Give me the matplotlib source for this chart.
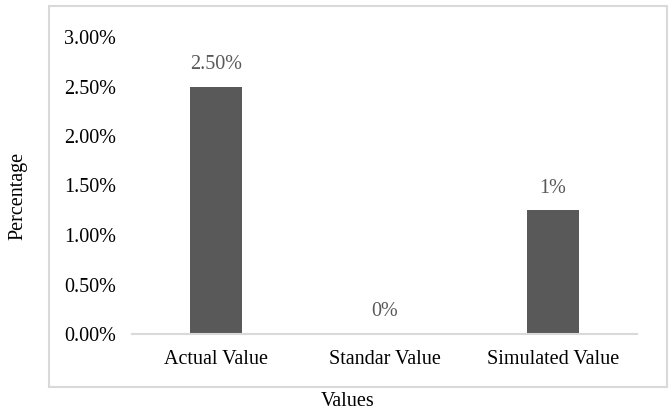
import matplotlib
matplotlib.use("Agg")
import matplotlib.pyplot as plt
from matplotlib.patches import Rectangle
from matplotlib.ticker import FuncFormatter

categories = ["Actual Value", "Standar Value", "Simulated Value"]
values = [0.025, 0.0, 0.0125]
label_decimals = [2, 0, 0]
y_ticks = [0.0, 0.005, 0.01, 0.015, 0.02, 0.025, 0.03]

plt.rcParams["font.family"] = ["Liberation Serif", "DejaVu Serif"]

W, H = 670, 416
FS = 14.5
fig = plt.figure(figsize=(W / 100, H / 100), dpi=100)

# outer chart frame
fig.patches.append(Rectangle((49 / W, 1 - 387 / H), (667 - 49) / W, (387 - 6) / H,
                             transform=fig.transFigure, fill=False,
                             edgecolor="#d9d9d9", linewidth=1.5))

ax = fig.add_axes([132 / W, 1 - 334 / H, (637 - 132) / W, (334 - 37) / H])
x = range(len(categories))
bars = ax.bar(x, values, width=0.31, color="#595959")

ax.set_xlim(-0.5, len(categories) - 0.5)
ax.set_ylim(0, 0.03)
ax.set_yticks(y_ticks)
ax.yaxis.set_major_formatter(FuncFormatter(lambda v, p: f"{v * 100:.2f}%"))
ax.set_xticks(list(x))
ax.set_xticklabels(categories)
ax.tick_params(axis="both", length=0, labelsize=FS, colors="#000000")
ax.tick_params(axis="y", pad=11.5)
ax.tick_params(axis="x", pad=11.5)

for s in ["top", "right", "left"]:
    ax.spines[s].set_visible(False)
ax.spines["bottom"].set_color("#d9d9d9")
ax.spines["bottom"].set_linewidth(1.5)

for xi, v, d in zip(x, values, label_decimals):
    ax.annotate(f"{v * 100:.{d}f}%", (xi, v), xytext=(0, 9), textcoords="offset points",
                ha="center", va="bottom", fontsize=FS, color="#595959")

fig.text(18 / W, 1 - 196 / H, "Percentage", rotation=90, ha="center", va="center", fontsize=FS)
fig.text(348 / W, 1 - 401 / H, "Values", ha="center", va="center", fontsize=FS)

fig.savefig("out.png", dpi=100)
